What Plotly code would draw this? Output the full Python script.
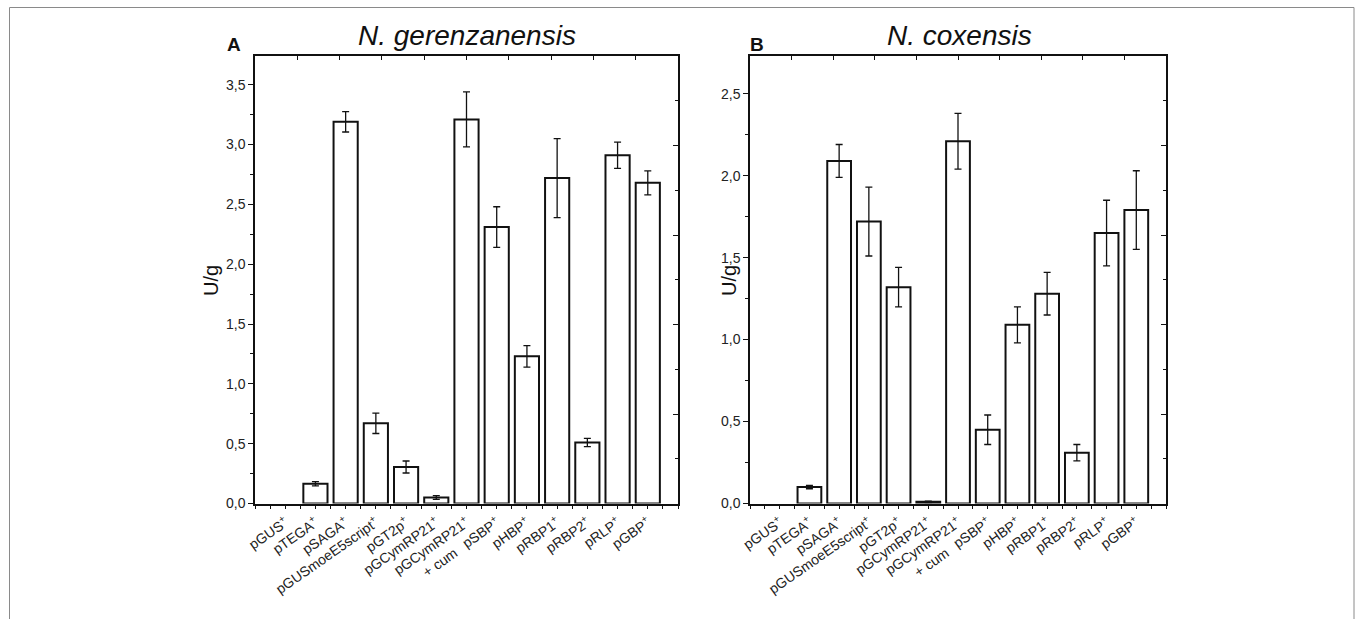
import plotly.graph_objects as go

categories = ["pGUS", "pTEGA", "pSAGA", "pGUSmoeE5script", "pGT2p", "pGCymRP21",
              "pGCymRP21", "pSBP", "pHBP", "pRBP1", "pRBP2", "pRLP", "pGBP"]
tick_labels = [c + "<sup>+</sup>" for c in categories]
tick_labels[6] = "pGCymRP21<sup>+</sup><br>+ cum" + "\u00a0" * 7

ger_values = [0.0, 0.165, 3.19, 0.67, 0.305, 0.05, 3.21, 2.31, 1.23, 2.72, 0.51, 2.91, 2.68]
ger_errors = [0.0, 0.018, 0.085, 0.085, 0.05, 0.015, 0.23, 0.17, 0.09, 0.33, 0.035, 0.11, 0.10]

cox_values = [0.0, 0.10, 2.09, 1.72, 1.32, 0.01, 2.21, 0.45, 1.09, 1.28, 0.31, 1.65, 1.79]
cox_errors = [0.0, 0.01, 0.10, 0.21, 0.12, 0.004, 0.17, 0.09, 0.11, 0.13, 0.05, 0.20, 0.24]

W, H = 1355, 619
FONT = "Liberation Sans, Arial, sans-serif"

def px(x):
    return x / W

def py(y):
    return 1 - y / H

tickvals = [v / 2 for v in range(-2, 27)]
ticktext = []
for v in tickvals:
    if float(v).is_integer() and 0 <= v < len(categories):
        ticktext.append(tick_labels[int(v)])
    else:
        ticktext.append("")

fig = go.Figure()

for vals, errs, xa, ya in [(ger_values, ger_errors, "x", "y"), (cox_values, cox_errors, "x2", "y2")]:
    idx = [i for i, v in enumerate(vals) if v > 0]
    fig.add_trace(go.Bar(
        x=idx, y=[vals[i] for i in idx], width=0.8, xaxis=xa, yaxis=ya,
        marker=dict(color="white", line=dict(color="#111111", width=2)),
        error_y=dict(type="data", array=[errs[i] for i in idx], visible=True,
                     color="#111111", thickness=1.3, width=3.5),
        showlegend=False, hoverinfo="skip",
    ))

for xa, ya in [("x3", "y3"), ("x4", "y4")]:
    fig.add_trace(go.Scatter(x=[None], y=[None], xaxis=xa, yaxis=ya, showlegend=False, hoverinfo="skip"))

ydom = [py(503.5), py(56)]
domA = [px(255), px(678)]
domB = [px(750), px(1166)]

line = dict(showline=True, linecolor="#111111", linewidth=1.5, zeroline=False, showgrid=False,
            automargin=False, fixedrange=True)
xtickfont = dict(family=FONT, size=14, color="#222222")
ytickfont = dict(family=FONT, size=14, color="#222222")

def bottom_x(dom, anchor):
    return dict(domain=dom, anchor=anchor, range=[-1, 13], tickmode="array", tickvals=tickvals,
                ticktext=ticktext, tickangle=-35, ticks="outside", ticklen=4, tickwidth=1,
                tickcolor="#111111", tickfont=xtickfont, **line)

def top_x(over, anchor):
    return dict(overlaying=over, anchor=anchor, side="top", range=[0, 10], tickmode="linear",
                tick0=0, dtick=1, ticks="inside", ticklen=4, tickwidth=1, tickcolor="#111111",
                showticklabels=False, **line)

def left_y(dom, anchor, top):
    return dict(domain=dom, anchor=anchor, range=[0, top], tickmode="linear", tick0=0, dtick=0.5,
                tickformat=".1f", ticks="outside", ticklen=5, tickwidth=1, tickcolor="#111111",
                minor=dict(dtick=0.25, ticks="outside", ticklen=3, tickwidth=1, tickcolor="#111111"),
                tickfont=ytickfont, **line)

def right_y(over, anchor):
    return dict(overlaying=over, anchor=anchor, side="right", range=[0, 10], tickmode="linear",
                tick0=0, dtick=2, ticks="inside", ticklen=5, tickwidth=1, tickcolor="#111111",
                minor=dict(dtick=1, ticks="inside", ticklen=3, tickwidth=1, tickcolor="#111111"),
                showticklabels=False, **line)

fig.update_layout(
    width=W, height=H, margin=dict(l=0, r=0, t=0, b=0, autoexpand=False),
    paper_bgcolor="white", plot_bgcolor="white", separators=",.",
    xaxis=bottom_x(domA, "y"),
    xaxis2=bottom_x(domB, "y2"),
    xaxis3=top_x("x", "y"),
    xaxis4=top_x("x2", "y2"),
    yaxis=left_y(ydom, "x", 3.74),
    yaxis2=left_y(ydom, "x2", 2.73),
    yaxis3=right_y("y", "x"),
    yaxis4=right_y("y2", "x2"),
    font=dict(family=FONT, color="#222222"),
)

annotations = [
    dict(text="<i>N. gerenzanensis</i>", x=px(467), y=py(36), font=dict(family=FONT, size=28, color="#111111")),
    dict(text="<i>N. coxensis</i>", x=px(960), y=py(36), font=dict(family=FONT, size=28, color="#111111")),
    dict(text="<b>A</b>", x=px(234), y=py(45), font=dict(family=FONT, size=19, color="#111111")),
    dict(text="<b>B</b>", x=px(757), y=py(45), font=dict(family=FONT, size=19, color="#111111")),
    dict(text="U/g", x=px(211), y=py(281), textangle=-90, font=dict(family=FONT, size=20, color="#111111")),
    dict(text="U/g", x=px(729), y=py(281), textangle=-90, font=dict(family=FONT, size=20, color="#111111")),
]
for a in annotations:
    a.update(xref="paper", yref="paper", showarrow=False, xanchor="center", yanchor="middle")
fig.update_layout(annotations=annotations)

frame = dict(type="line", xref="paper", yref="paper", line=dict(color="#8a8a8a", width=1))
fig.update_layout(shapes=[
    dict(frame, x0=px(9.5), x1=px(9.5), y0=-0.05, y1=py(7.5)),
    dict(frame, x0=px(9.5), x1=px(1354), y0=py(7.5), y1=py(7.5)),
    dict(frame, x0=px(1354), x1=px(1354), y0=-0.05, y1=py(7.5)),
])

fig.write_html("out.html", config={"displayModeBar": False},
               post_script="document.body.style.margin='0';document.body.style.overflow='hidden';")
